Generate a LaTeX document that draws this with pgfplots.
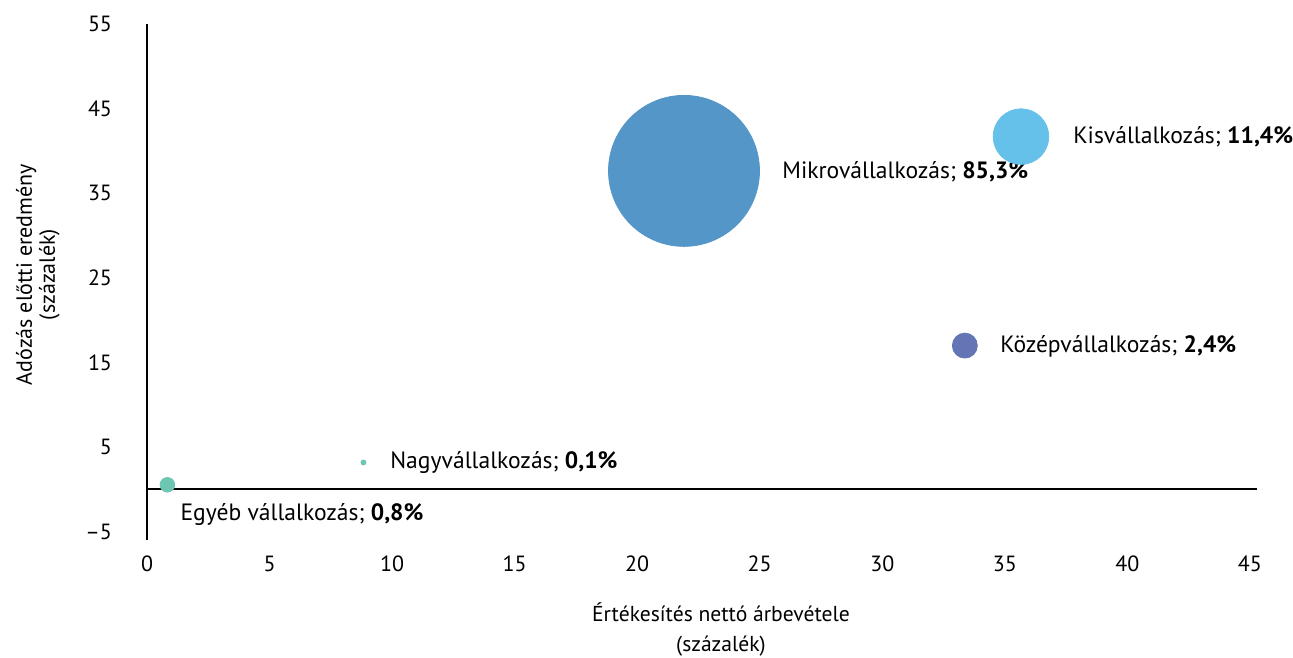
\documentclass[border=0pt]{standalone}
\usepackage{fontspec}
\setmainfont{PT Sans}
\usepackage{pgfplots}
\pgfplotsset{compat=1.18}
\definecolor{cmikro}{HTML}{5596C9}
\definecolor{ckis}{HTML}{66C1EA}
\definecolor{ckozep}{HTML}{6375B5}
\definecolor{cteal}{HTML}{6CC6B2}
\begin{document}
\begin{tikzpicture}
\begin{axis}[
  scale only axis, width=555.2pt, height=258.2pt,
  xmin=0, xmax=45.3, ymin=-6, ymax=55,
  axis line style={draw=none}, major tick length=0pt,
  xtick={0,5,...,45}, ytick={-5,5,15,25,35,45,55},
  yticklabels={\textendash5,5,15,25,35,45,55},
  clip=false,
  /pgf/number format/assume math mode=true,
  ticklabel style={font=\fontsize{11}{13}\selectfont},
  yticklabel style={xshift=-14pt},
  xticklabel style={yshift=-4.2pt},
]
\addplot[only marks, mark=*, mark size=37.75pt, color=cmikro] coordinates {(21.91,37.64)};
\addplot[only marks, mark=*, mark size=13.9pt, color=ckis] coordinates {(35.66,41.69)};
\addplot[only marks, mark=*, mark size=6.25pt, color=ckozep] coordinates {(33.37,17.0)};
\addplot[only marks, mark=*, mark size=1.25pt, color=cteal] coordinates {(8.83,3.19)};
\addplot[only marks, mark=*, mark size=3.65pt, color=cteal] coordinates {(0.83,0.55)};
\draw[line width=1.2pt] (axis cs:0,-6) -- (axis cs:0,55);
\draw[line width=1pt] (axis cs:0,0) -- (axis cs:45.3,0);
\begin{scope}[every node/.style={anchor=west, inner sep=0pt, font=\fontsize{11.8}{13}\selectfont}]
\node at (axis cs:25.91,37.52) {Mikrovállalkozás; \textbf{85,3\%}};
\node at (axis cs:37.78,41.69) {Kisvállalkozás; \textbf{11,4\%}};
\node at (axis cs:34.80,16.85) {Középvállalkozás; \textbf{2,4\%}};
\node at (axis cs:9.91,3.15) {Nagyvállalkozás; \textbf{0,1\%}};
\node at (axis cs:1.35,-3.0) {Egyéb vállalkozás; \textbf{0,8\%}};
\end{scope}
\node[rotate=90, align=center, font=\fontsize{11}{11.5}\selectfont] at (axis cs:-4.45,25.4) {Adózás előtti eredmény\\(százalék)};
\node[align=center, font=\fontsize{10.8}{15}\selectfont] at (axis cs:23.42,-16.57) {Értékesítés nettó árbevétele\\(százalék)};
\coordinate (bl) at (axis cs:-6,-19.88);
\coordinate (tr) at (axis cs:46.76,57.83);
\end{axis}
\pgfresetboundingbox
\path[use as bounding box] (bl) rectangle (tr);
\end{tikzpicture}
\end{document}
